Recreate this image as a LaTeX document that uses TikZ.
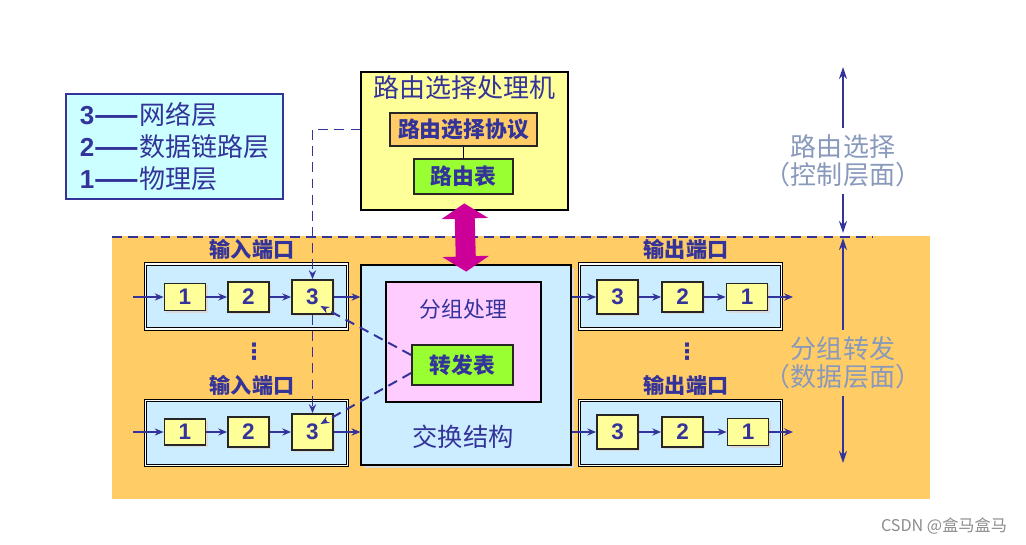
\documentclass[tikz,border=0pt]{standalone}
\usepackage{fontspec}
\setmainfont{Noto Sans CJK SC}
\newfontfamily\digitfont{Liberation Sans}
\newfontfamily\symfont{DejaVu Sans}
\usetikzlibrary{positioning, calc, arrows.meta, shadows}
\definecolor{inkblue}{RGB}{51,51,153}
\definecolor{legendcyan}{RGB}{204,255,255}
\definecolor{boxyellow}{RGB}{255,255,153}
\definecolor{protoorange}{RGB}{255,204,102}
\definecolor{tablegreen}{RGB}{153,255,51}
\definecolor{portblue}{RGB}{204,236,255}
\definecolor{pktpink}{RGB}{255,204,255}
\definecolor{dataorange}{RGB}{255,204,102}
\definecolor{transferpink}{RGB}{204,0,153}
\definecolor{planegray}{RGB}{136,153,187}

\begin{document}
\begin{tikzpicture}[x=0.025cm, y=-0.025cm]
    % Define styles
    \tikzstyle{legend_box}=[draw=inkblue, line width=1.5pt, fill=legendcyan, minimum width=5.425cm, minimum height=2.625cm, align=left, text=inkblue, font=\fontsize{18.5}{22.8}\selectfont]
    \tikzstyle{panel}=[draw=black, line width=0.8pt, inner sep=0pt]
    \tikzstyle{table_box}=[draw=black!85, line width=1.3pt, inner sep=0pt, text=inkblue, font=\bfseries\fontsize{15.5}{15.5}\selectfont]
    \tikzstyle{port_frame}=[draw=black, double=white, double distance=1.2pt, line width=0.5pt, fill=portblue, minimum width=5.05cm, minimum height=1.625cm, inner sep=0pt]
    \tikzstyle{layer_box}=[draw=black!85, line width=1.3pt, fill=boxyellow, inner sep=0pt, minimum width=1.025cm, text=inkblue, font=\digitfont\bfseries\fontsize{16}{16}\selectfont, drop shadow={shadow xshift=0.05cm, shadow yshift=-0.05cm, fill=black!15, opacity=1}]
    \tikzstyle{port_label}=[text=inkblue, font=\bfseries\fontsize{15}{15}\selectfont]
    \tikzstyle{plane_label}=[text=planegray, align=center, inner sep=0.17cm, font=\fontsize{18.5}{20}\selectfont]
    \tikzstyle{flow}=[inkblue, line width=1.4pt, -{Stealth[length=0.22cm, width=0.18cm]}]
    \tikzstyle{ctrl_flow}=[flow, dash pattern=on 7pt off 4.5pt]
    \tikzstyle{plane_arrow}=[inkblue, line width=1.4pt, -{Stealth[length=0.3cm, width=0.2cm]}]
    \tikzstyle{transfer}=[transferpink, line width=0.5cm, {Triangle[width=1.15cm, length=0.38cm]}-{Triangle[width=1.15cm, length=0.38cm]}, shorten <=-0.18cm, shorten >=-0.18cm]
    \tikzstyle{dots}=[text=inkblue, inner sep=0pt, font=\symfont\bfseries\fontsize{16}{16}\selectfont]
    \tikzstyle{watermark}=[text=black!45, font=\fontsize{11.5}{11.5}\selectfont]

    \useasboundingbox (0,0) rectangle (1026,545);

    % --- 1. Data plane background ---
    \fill[dataorange] (112,236) rectangle (930,499);
    \draw[inkblue, line width=1.4pt, dash pattern=on 7pt off 4.5pt] (112,237) -- (873,237);

    % --- 2. Legend ---
    \node[legend_box] (legend) at (174.5,146.5) {{\bfseries\digitfont 3}{\bfseries ——}网络层\\{\bfseries\digitfont 2}{\bfseries ——}数据链路层\\{\bfseries\digitfont 1}{\bfseries ——}物理层};

    % --- 3. Routing processor ---
    \node[panel, fill=boxyellow, minimum width=5.175cm, minimum height=3.45cm] (router) at (464.5,141) {};
    \node[text=inkblue, font=\fontsize{18.5}{18.5}\selectfont] (router_title) at (464.5,88) {路由选择处理机};
    \node[table_box, fill=protoorange, minimum width=3.675cm, minimum height=0.825cm] (proto) at (463.5,129.5) {路由选择协议};
    \node[table_box, fill=tablegreen, minimum width=2.475cm, minimum height=0.875cm] (rtable) at (463.5,176.5) {路由表};
    \draw[black, line width=1pt] (proto) -- (rtable);

    % --- 4. Switch fabric ---
    \node[panel, fill=portblue, minimum width=5.25cm, minimum height=5cm, drop shadow={shadow xshift=0.08cm, shadow yshift=-0.08cm, fill=black!15, opacity=1}] (fabric) at (466,365) {};
    \node[panel, fill=pktpink, minimum width=3.875cm, minimum height=3cm] (pkt) at (463.5,342) {};
    \node[text=inkblue, font=\fontsize{15.5}{15.5}\selectfont] (pkt_title) at (463.5,309) {分组处理};
    \node[table_box, fill=tablegreen, minimum width=2.525cm, minimum height=1cm] (fwd) at (462.5,365) {转发表};
    \node[text=inkblue, font=\fontsize{18}{18}\selectfont] (fabric_title) at (463,437) {交换结构};

    \draw[transfer] (router.south) -- (fabric.north);

    % --- 5. Input ports ---
    \node[port_label] (in_label_a) at (252,249) {输入端口};
    \node[port_label] (in_label_b) at (252,385) {输入端口};
    \node[port_frame] (in_port_a) at (246.5,296.5) {};
    \node[port_frame] (in_port_b) at (246.5,433) {};
    \node[dots] (in_dots) at (254,352) {⋮};

    \node[layer_box, minimum height=0.675cm] (in1a) at (185,297) {1};
    \node[layer_box, minimum height=0.75cm] (in2a) at (248.5,297) {2};
    \node[layer_box, minimum height=0.85cm] (in3a) at (312.5,297) {3};
    \node[layer_box, minimum height=0.65cm] (in1b) at (185,432) {1};
    \node[layer_box, minimum height=0.75cm] (in2b) at (248.5,432) {2};
    \node[layer_box, minimum height=0.9cm] (in3b) at (312.5,432) {3};

    \coordinate (in_a) at (133,297);
    \coordinate (in_b) at (133,432);
    \draw[flow] (in_a) -- (in1a);
    \draw[flow] (in1a) -- (in2a);
    \draw[flow] (in2a) -- (in3a);
    \draw[flow] (in3a.east) -- (in3a.east -| fabric.west);
    \draw[flow] (in_b) -- (in1b);
    \draw[flow] (in1b) -- (in2b);
    \draw[flow] (in2b) -- (in3b);
    \draw[flow] (in3b.east) -- (in3b.east -| fabric.west);

    % --- 6. Output ports ---
    \node[port_label] (out_label_a) at (686,249) {输出端口};
    \node[port_label] (out_label_b) at (686,385) {输出端口};
    \node[port_frame] (out_port_a) at (680.5,296.5) {};
    \node[port_frame] (out_port_b) at (680.5,433) {};
    \node[dots] (out_dots) at (687,352) {⋮};

    \node[layer_box, minimum height=0.85cm] (out3a) at (617.5,297) {3};
    \node[layer_box, minimum height=0.75cm] (out2a) at (682.5,297) {2};
    \node[layer_box, minimum height=0.675cm] (out1a) at (747,297) {1};
    \node[layer_box, minimum height=0.85cm] (out3b) at (617.5,432) {3};
    \node[layer_box, minimum height=0.75cm] (out2b) at (682.5,432) {2};
    \node[layer_box, minimum height=0.675cm] (out1b) at (748,432) {1};

    \coordinate (out_a) at (793,297);
    \coordinate (out_b) at (793,432);
    \draw[flow] (fabric.east |- out3a.west) -- (out3a);
    \draw[flow] (out3a) -- (out2a);
    \draw[flow] (out2a) -- (out1a);
    \draw[flow] (out1a) -- (out_a);
    \draw[flow] (fabric.east |- out3b.west) -- (out3b);
    \draw[flow] (out3b) -- (out2b);
    \draw[flow] (out2b) -- (out1b);
    \draw[flow] (out1b) -- (out_b);

    % --- 7. Control connectors (dashed) ---
    \draw[ctrl_flow] (router.west |- proto.center) -| (in3a.north);
    \draw[ctrl_flow] (in3a.south) -- (in3b.north);
    \draw[ctrl_flow] ($(fwd.west)+(0,-10)$) -- ($(in3a.center)+(8,9)$);
    \draw[ctrl_flow] ($(fwd.west)+(0,8)$) -- ($(in3b.center)+(8,-8)$);

    % --- 8. Plane annotations ---
    \node[plane_label] (ctrl_plane) at (843,161) {路由选择\\（控制层面）};
    \coordinate (ctrl_top) at (843,67);
    \coordinate (ctrl_bot) at (843,233);
    \draw[plane_arrow] (ctrl_plane.north) -- (ctrl_top);
    \draw[plane_arrow] (ctrl_plane.south) -- (ctrl_bot);

    \node[plane_label] (data_plane) at (843,363) {分组转发\\（数据层面）};
    \coordinate (data_top) at (843,238);
    \coordinate (data_bot) at (843,463);
    \draw[plane_arrow] (data_plane.north) -- (data_top);
    \draw[plane_arrow] (data_plane.south) -- (data_bot);

    \node[watermark] (csdn) at (944,526) {CSDN @盒马盒马};

\end{tikzpicture}
\end{document}
